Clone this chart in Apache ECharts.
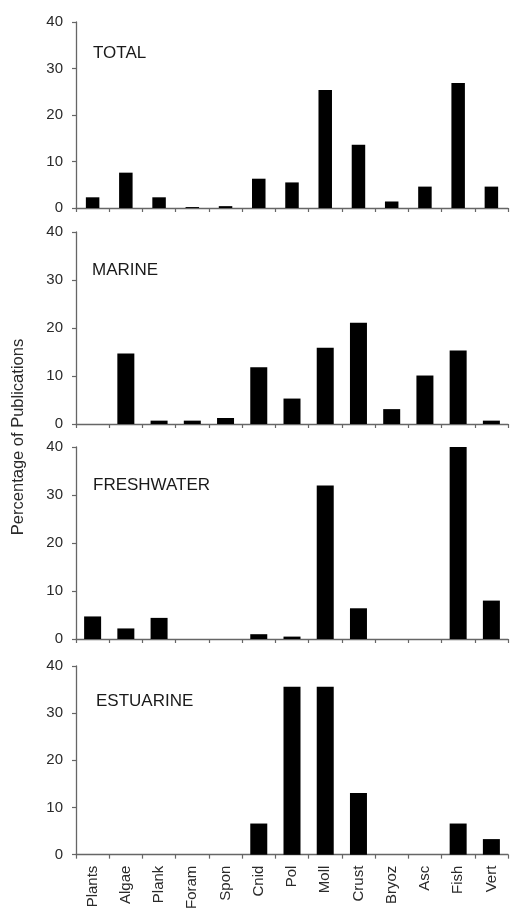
<!DOCTYPE html>
<html><head><meta charset="utf-8">
<script src="https://cdn.jsdelivr.net/npm/echarts@6/dist/echarts.min.js"></script>
<style>html,body{margin:0;padding:0;background:#fff}#c{width:511px;height:912px}</style>
</head><body><div id="c"></div>
<script>
var categories = ['Plants','Algae','Plank','Foram','Spon','Cnid','Pol','Moll','Crust','Bryoz','Asc','Fish','Vert'];
var panelNames = ['TOTAL','MARINE','FRESHWATER','ESTUARINE'];
var totalVals = [2.3, 7.6, 2.3, 0.2, 0.4, 6.3, 5.5, 25.4, 13.6, 1.4, 4.6, 26.9, 4.6];
var marineVals = [0, 14.7, 0.7, 0.7, 1.25, 11.8, 5.3, 15.9, 21.1, 3.1, 10.1, 15.3, 0.7];
var freshVals = [4.7, 2.2, 4.4, 0, 0, 1.0, 0.5, 32.0, 6.4, 0, 0, 40.0, 8.0];
var estVals = [0, 0, 0, 0, 0, 6.6, 35.6, 35.6, 13.1, 0, 0, 6.6, 3.3];
var yTicks = [0, 10, 20, 30, 40];
var yTitle = 'Percentage of Publications';

var seriesData = [totalVals, marineVals, freshVals, estVals];
var grids = [
  {left: 76, right: 3, top: 22, height: 186},
  {left: 76, right: 3, top: 232, height: 192},
  {left: 76, right: 3, top: 447, height: 192},
  {left: 76, right: 3, top: 666, height: 191}
];
var barWidths = [13.5, 17, 17, 17];
var titleTops = [45, 262, 477, 693];
var titleLefts = [93, 92, 93, 96];
var font = 'Liberation Sans, Arial, sans-serif';
var axisCol = '#666';
var textCol = '#2a2a2a';

var option = {
  animation: false,
  backgroundColor: '#fff',
  grid: grids,
  title: panelNames.map(function(n, i){
    return {text: n, left: titleLefts[i], top: titleTops[i], padding: 0,
      textStyle: {fontFamily: font, fontSize: 17, fontWeight: 'normal', color: '#1a1a1a'}};
  }),
  graphic: [{
    type: 'text', rotation: Math.PI/2,
    x: 18, y: 437,
    style: {text: yTitle, fontFamily: font, fontSize: 16.5, fill: textCol, align: 'center', verticalAlign: 'middle'}
  }],
  xAxis: grids.map(function(g, i){
    return {
      type: 'category', gridIndex: i, data: categories,
      boundaryGap: true,
      axisLine: {lineStyle: {color: axisCol, width: 1.3}},
      axisTick: {show: true, length: 4, lineStyle: {color: axisCol, width: 1.2}},
      axisLabel: {show: i === 3, rotate: 90, fontFamily: font, fontSize: 15, color: textCol, margin: 11, interval: 0},
      splitLine: {show: false}
    };
  }),
  yAxis: grids.map(function(g, i){
    return {
      type: 'value', gridIndex: i, min: yTicks[0], max: yTicks[yTicks.length-1], interval: 10,
      axisLine: {show: true, lineStyle: {color: axisCol, width: 1.3}},
      axisTick: {show: true, length: 4, lineStyle: {color: axisCol, width: 1.2}},
      axisLabel: {fontFamily: font, fontSize: 15, color: textCol, margin: 13},
      splitLine: {show: false}
    };
  }),
  series: seriesData.map(function(d, i){
    return {
      type: 'bar', xAxisIndex: i, yAxisIndex: i, data: d,
      barWidth: barWidths[i],
      itemStyle: {color: '#000'}
    };
  })
};
var chart = echarts.init(document.getElementById('c'), null, {renderer: 'canvas'});
chart.setOption(option);
</script></body></html>
